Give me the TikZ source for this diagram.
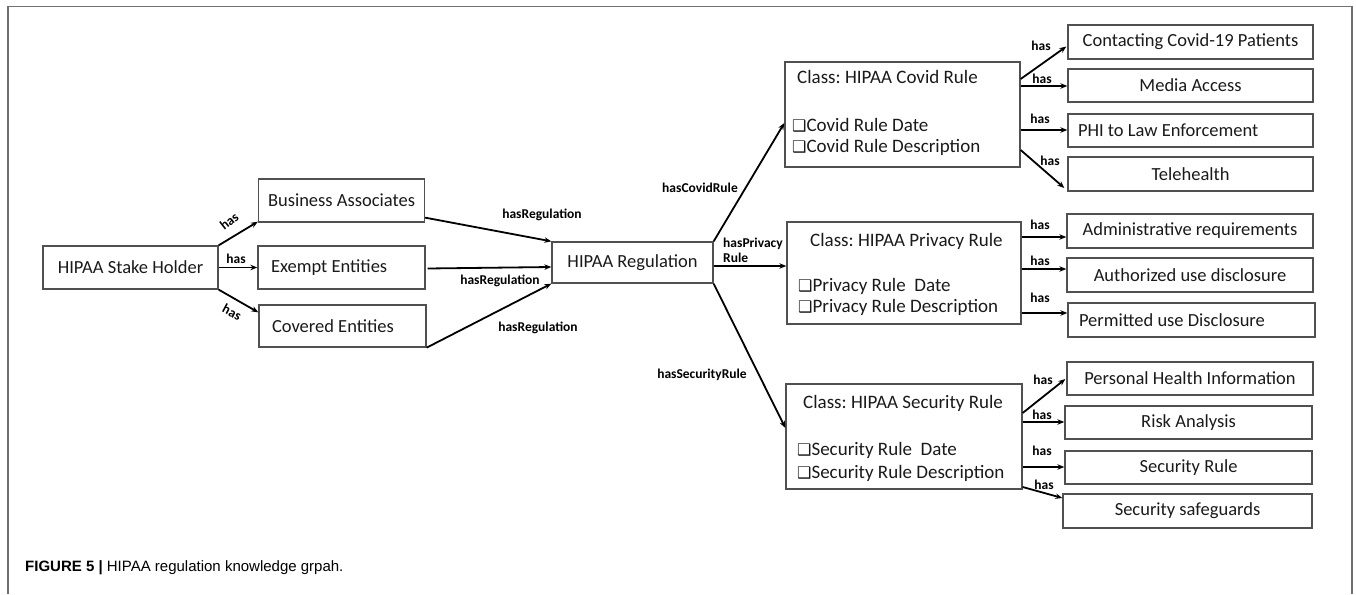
\documentclass[tikz,border=0pt]{standalone}
\usepackage{fontspec}
\setmainfont{Carlito}
\newfontfamily\capfont{Liberation Sans}
\newfontfamily\symfont{DejaVu Sans}
\usetikzlibrary{arrows.meta,calc}
\definecolor{boxline}{HTML}{505050}
\definecolor{framegray}{HTML}{707070}
\definecolor{txt}{HTML}{1A1A1A}
\newcommand{\chk}{{\symfont\fontsize{16}{16}\selectfont ❑}}
\newcommand{\lefttext}[2]{\makebox[#1][l]{#2}}
\frenchspacing

\begin{document}
\begin{tikzpicture}[x=1pt,y=-1pt,
  box/.style={draw=boxline, line width=1.3pt, inner sep=0pt, text=txt,
              font=\fontsize{18.5}{20}\selectfont},
  classbox/.style={draw=boxline, line width=1.3pt, inner sep=0pt},
  classtxt/.style={anchor=west, inner sep=0pt, text=txt, font=\fontsize{19}{21}\selectfont},
  arr/.style={line width=1.8pt, -{Stealth[length=7pt,width=5.5pt]}},
  lbl/.style={inner sep=0pt, font=\bfseries\fontsize{13.5}{15}\selectfont},
]
\useasboundingbox (0,0) rectangle (1356,594);

% outer frame (open at the bottom)
\draw[framegray, line width=1.5pt] (8,594) -- (8,6.5) -- (1352,6.5) -- (1352,594);

% left part
\node[box, minimum width=175pt, minimum height=43pt] (stake) at (130.5,267.5) {HIPAA Stake Holder};
\node[box, minimum width=166pt, minimum height=43pt] (busi) at (341.5,200.5) {Business Associates};
\node[box, minimum width=167pt, minimum height=43pt] (exempt) at (341.5,267.5) {\lefttext{141pt}{Exempt Entities}};
\node[box, minimum width=167pt, minimum height=42pt] (covered) at (342.5,326) {\lefttext{141pt}{Covered Entities}};
\node[box, minimum width=161pt, minimum height=41pt] (reg) at (632.5,262.5) {HIPAA Regulation};

% class boxes
\node[classbox, minimum width=235pt, minimum height=105pt] (covid) at (902.5,114.5) {};
\node[classtxt] (covidT) at (797,77) {Class: HIPAA Covid Rule};
\node[classtxt] (covidA) at (792,125) {\chk Covid Rule Date};
\node[classtxt] (covidB) at (792,147) {\chk Covid Rule Description};

\node[classbox, minimum width=234pt, minimum height=102pt] (privacy) at (904,273) {};
\node[classtxt] (privT) at (810,241) {Class: HIPAA Privacy Rule};
\node[classtxt] (privA) at (798,286) {\chk Privacy Rule\ \ Date};
\node[classtxt] (privB) at (798,307) {\chk Privacy Rule Description};

\node[classbox, minimum width=236pt, minimum height=105pt] (security) at (904,436.5) {};
\node[classtxt] (secT) at (803,403) {Class: HIPAA Security Rule};
\node[classtxt] (secA) at (797,450) {\chk Security Rule\ \ Date};
\node[classtxt] (secB) at (797,473) {\chk Security Rule Description};

% right column
\node[box, minimum width=245pt, minimum height=34pt] (contact) at (1190.5,42) {Contacting Covid-19 Patients};
\node[box, minimum width=245pt, minimum height=33pt] (media) at (1190.5,85.5) {Media Access};
\node[box, minimum width=245pt, minimum height=33pt] (phi) at (1190.5,130.5) {\lefttext{225pt}{PHI to Law Enforcement}};
\node[box, minimum width=245pt, minimum height=34pt] (tele) at (1190.5,174) {Telehealth};

\node[box, minimum width=246pt, minimum height=34pt] (admin) at (1190,231) {Administrative requirements};
\node[box, minimum width=246pt, minimum height=34pt] (auth) at (1190,275) {Authorized use disclosure};
\node[box, minimum width=247pt, minimum height=34pt] (perm) at (1191.5,320) {\lefttext{225pt}{Permitted use Disclosure}};

\node[box, minimum width=246pt, minimum height=33pt] (phinfo) at (1190,378.5) {Personal Health Information};
\node[box, minimum width=247pt, minimum height=33pt] (risk) at (1188.5,422.5) {Risk Analysis};
\node[box, minimum width=247pt, minimum height=33pt] (secrule) at (1188.5,467.5) {Security Rule};
\node[box, minimum width=249pt, minimum height=34pt] (safe) at (1187.5,511) {Security safeguards};

% connectors: stake holder
\draw[arr] (stake.north east) -- ($(busi.south west)+(0,-1)$);
\draw[arr] (stake.east) -- (exempt.west);
\draw[arr] (stake.south east) -- ($(covered.north west)+(0,8)$);
\node[lbl, rotate=38] (l1) at (229,221) {has};
\node[lbl] (l2) at (236,259) {has};
\node[lbl, rotate=-28] (l3) at (232,312) {has};

% connectors: to regulation
\draw[arr] ($(busi.south east)+(0,-5)$) -- (reg.north west);
\draw[arr] ($(exempt.east)+(2,1)$) -- ($(reg.west)+(0,4.5)$);
\draw[arr] (covered.south east) -- (reg.south west);
\node[lbl] (l4) at (542,215) {hasRegulation};
\node[lbl] (l5) at (500,281) {hasRegulation};
\node[lbl] (l6) at (538,328) {hasRegulation};

% connectors: regulation to rules
\draw[arr] (reg.north east) -- ($(covid.west)+(0,8.5)$);
\draw[arr] ($(reg.east)+(0,3.5)$) -- ($(privacy.west)+(0,-7)$);
\draw[arr] (reg.south east) -- ($(security.west)+(0,-8.5)$);
\node[lbl] (l7) at (700,188) {hasCovidRule};
\node[lbl, anchor=west, align=left] (l8) at (723,250.5) {hasPrivacy\\Rule};
\node[lbl] (l9) at (702,375) {hasSecurityRule};

% connectors: covid rule
\draw[arr] ($(covid.east)+(0,-35.5)$) -- ($(contact.west)+(-1,4.5)$);
\draw[arr] ($(covid.east)+(0,-28.5)$) -- ($(media.west)+(0,0.5)$);
\draw[arr] ($(covid.east)+(0,15.5)$) -- ($(phi.west)+(0,-0.5)$);
\draw[arr] ($(covid.east)+(0,35.5)$) -- ($(tele.west)+(-3,14)$);
\node[lbl] (c1) at (1041,46) {has};
\node[lbl] (c2) at (1042,79) {has};
\node[lbl] (c3) at (1040,119) {has};
\node[lbl] (c4) at (1050,161) {has};

% connectors: privacy rule
\draw[arr] ($(privacy.east)+(0,-36)$) -- ($(admin.west)+(0,6)$);
\draw[arr] ($(privacy.east)+(0,-4)$) -- ($(auth.west)+(0,-6)$);
\draw[arr] ($(privacy.east)+(0,40)$) -- ($(perm.west)+(0,-7)$);
\node[lbl] (p1) at (1040,225) {has};
\node[lbl] (p2) at (1040,261) {has};
\node[lbl] (p3) at (1040,298) {has};

% connectors: security rule
\draw[arr] ($(security.east)+(0,-23.5)$) -- ($(phinfo.west)+(-1,0.5)$);
\draw[arr] ($(security.east)+(0,-14.5)$) -- ($(risk.west)+(0,-0.5)$);
\draw[arr] ($(security.east)+(0,30.5)$) -- ($(secrule.west)+(0,-0.5)$);
\draw[arr] ($(security.east)+(0,50.5)$) -- ($(safe.west)+(0,-13)$);
\node[lbl] (s1) at (1043,380) {has};
\node[lbl] (s2) at (1042,415) {has};
\node[lbl] (s3) at (1042,451) {has};
\node[lbl] (s4) at (1044,485) {has};

% caption
\node[anchor=base west, inner sep=0pt, font=\capfont\fontsize{15}{17}\selectfont] (caption) at (25,571)
  {\textbf{FIGURE 5 |} HIPAA regulation knowledge grpah.};
\end{tikzpicture}
\end{document}
